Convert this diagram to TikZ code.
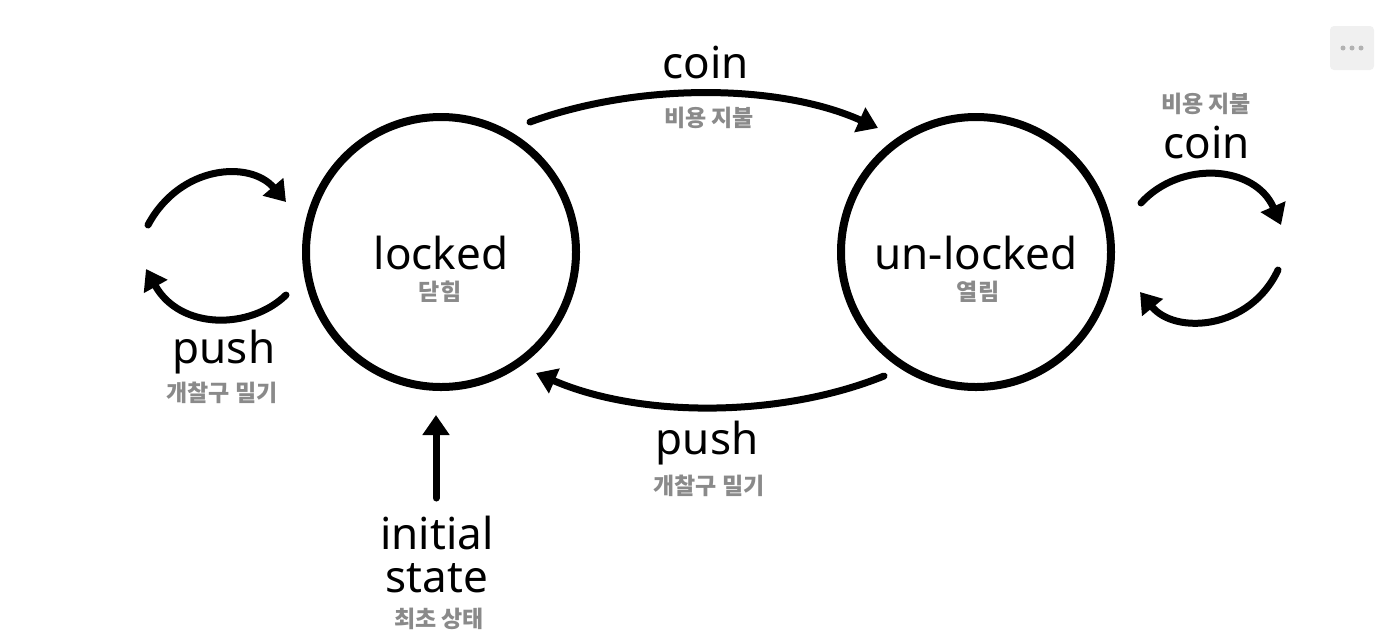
\documentclass[tikz,border=0pt]{standalone}
\usepackage{fontspec}
\setmainfont{Noto Sans}
\newfontfamily\kr{Noto Sans CJK KR}
\usetikzlibrary{arrows.meta}
\definecolor{krgray}{HTML}{8A8A8A}
\tikzset{
  state/.style={circle, draw, line width=8pt, minimum size=270pt, inner sep=0pt},
  lbl/.style={font=\fontsize{44}{46}\selectfont\bfseries, inner sep=0pt},
  sub/.style={font=\kr\fontsize{23}{25}\selectfont\bfseries, text=krgray, inner sep=0pt},
  trans/.style={line width=7pt, line cap=round, -{Triangle[length=20pt,width=26pt]}}
}
\begin{document}
\begin{tikzpicture}[x=1pt, y=-1pt]
\useasboundingbox (0,0) rectangle (1400,641);
% states
\node[state] (locked) at (441,252) {};
\node[state] (unlocked) at (976,252) {};
\node[lbl] (lockedtxt) at (441,253) {locked};
\node[sub] (lockedkr) at (440,292) {닫힘};
\node[lbl] (unlockedtxt) at (976,253) {un-locked};
\node[sub] (unlockedkr) at (978,292) {열림};
% transitions between states
\coordinate (c1s) at (530,122); \coordinate (c1e) at (878,128);
\draw[trans] (c1s) .. controls (640,82) and (780,84) .. (c1e);
\coordinate (p1s) at (884,376); \coordinate (p1e) at (536,373);
\draw[trans] (p1s) .. controls (780,418) and (640,418) .. (p1e);
\node[lbl] (coin) at (706,62) {coin};
\node[sub] (coinkr) at (709,118) {비용 지불};
\node[lbl] (push) at (707,443) {push};
\node[sub] (pushkr) at (709,486) {개찰구 밀기};
% loop on locked
\coordinate (l1s) at (148,225); \coordinate (l1e) at (286,202);
\draw[trans] (l1s) .. controls (180,165) and (250,160) .. (l1e);
\coordinate (l2s) at (286,295); \coordinate (l2e) at (146,269);
\draw[trans] (l2s) .. controls (250,330) and (180,330) .. (l2e);
\node[lbl] (pushl) at (224,352) {push};
\node[sub] (pushlkr) at (222,393) {개찰구 밀기};
% loop on unlocked
\coordinate (r1s) at (1141,203); \coordinate (r1e) at (1281,225);
\draw[trans] (r1s) .. controls (1180,160) and (1255,165) .. (r1e);
\coordinate (r2s) at (1278,270); \coordinate (r2e) at (1140,292);
\draw[trans] (r2s) .. controls (1250,330) and (1175,335) .. (r2e);
\node[sub] (coinrkr) at (1206,104) {비용 지불};
\node[lbl] (coinr) at (1207,142) {coin};
% initial
\coordinate (ini) at (436,498);
\draw[trans] (ini) -- (436,415);
\node[lbl] (initial) at (437,533) {initial};
\node[lbl] (statetxt) at (437,578) {state};
\node[sub] (initialkr) at (439,619) {최초 상태};
% menu icon
\node[fill=gray!12, rounded corners=4pt, minimum size=44pt, inner sep=0pt] (menu) at (1352,48) {};
\foreach \dx in {-9,0,9} \fill[gray!60] (1352+\dx,48) circle (2.5pt);
\end{tikzpicture}
\end{document}
